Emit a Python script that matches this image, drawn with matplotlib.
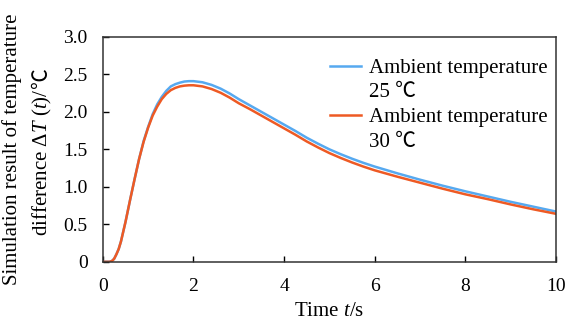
import matplotlib
matplotlib.use('Agg')
import matplotlib.pyplot as plt
from matplotlib.lines import Line2D

plt.rcParams['font.family'] = ['Liberation Serif', 'Noto Sans CJK SC']
plt.rcParams['mathtext.fontset'] = 'custom'
plt.rcParams['mathtext.rm'] = 'Liberation Serif'
plt.rcParams['mathtext.it'] = 'Liberation Serif:italic'

# values
t = [0, 0.1, 0.15, 0.2, 0.25, 0.3, 0.35, 0.4, 0.5, 0.6, 0.7, 0.8, 0.9, 1.0,
     1.1, 1.2, 1.3, 1.4, 1.5, 1.6, 1.7, 1.8, 1.9, 2.0, 2.2, 2.4, 2.6, 2.8,
     3.0, 3.25, 3.5, 3.75, 4.0, 4.25, 4.5, 4.75, 5.0, 5.25, 5.5, 5.75, 6.0,
     6.5, 7.0, 7.5, 8.0, 8.5, 9.0, 9.5, 10.0]
dT_25 = [0, 0, 0, 0.01, 0.04, 0.10, 0.17, 0.27, 0.53, 0.82, 1.10, 1.37,
         1.61, 1.80, 1.97, 2.10, 2.20, 2.28, 2.34, 2.37, 2.39, 2.405, 2.41,
         2.41, 2.395, 2.36, 2.31, 2.245, 2.17, 2.085, 2.0, 1.915, 1.83,
         1.745, 1.655, 1.575, 1.50, 1.435, 1.375, 1.32, 1.27, 1.18, 1.095,
         1.015, 0.94, 0.87, 0.80, 0.735, 0.67]
dT_30 = [0, 0, 0, 0.01, 0.04, 0.10, 0.17, 0.27, 0.53, 0.82, 1.10, 1.37,
         1.60, 1.79, 1.95, 2.07, 2.17, 2.24, 2.29, 2.32, 2.34, 2.35, 2.355,
         2.355, 2.34, 2.305, 2.255, 2.19, 2.115, 2.035, 1.95, 1.865, 1.78,
         1.695, 1.605, 1.525, 1.45, 1.385, 1.325, 1.27, 1.22, 1.135, 1.055,
         0.975, 0.90, 0.835, 0.765, 0.70, 0.64]

xticks = [0, 2, 4, 6, 8, 10]
yticks = [0, 0.5, 1.0, 1.5, 2.0, 2.5, 3.0]
ytick_labels = ['0', '0.5', '1.0', '1.5', '2.0', '2.5', '3.0']

blue = '#56A9F0'
orange = '#EE5A24'

fig = plt.figure(figsize=(5.68, 3.24), dpi=100)
ax = fig.add_axes([0.181, 0.192, 0.798, 0.694])

ax.plot(t, dT_25, color=blue, lw=1.8)
ax.plot(t, dT_30, color=orange, lw=1.8)

ax.set_xlim(0, 10)
ax.set_ylim(0, 3.0)
ax.set_xticks(xticks)
ax.set_yticks(yticks)
ax.set_yticklabels(ytick_labels)
ax.tick_params(direction='in', length=4, width=1, labelsize=14)
ax.tick_params(axis='x', pad=12)
ax.tick_params(axis='y', pad=11)
for s in ax.spines.values():
    s.set_linewidth(1.1)
    s.set_color('#333333')

ax.set_xlabel('Time $t$/s', fontsize=15, labelpad=5)

# two-line y label, built by hand so that the ℃ sign can come from a CJK font
fig.text(12 / 568, 0.5386, 'Simulation result of temperature', rotation=90,
         ha='center', va='center', fontsize=15)
yl2 = fig.text(42 / 568, (324 - 236) / 324, 'difference Δ$T$ ($t$)/',
               rotation=90, ha='center', va='bottom', fontsize=15)
ax.annotate('℃', xy=(0.5, 1.0), xycoords=yl2, rotation=90, ha='center',
            va='bottom', fontsize=15, annotation_clip=False)

handles = [Line2D([], [], color=blue, lw=1.8), Line2D([], [], color='none'),
           Line2D([], [], color=orange, lw=1.8), Line2D([], [], color='none')]
labels = ['Ambient temperature', '25 ℃', 'Ambient temperature', '30 ℃']
ax.legend(handles, labels, loc='upper right', bbox_to_anchor=(0.982, 0.905),
          frameon=False, fontsize=15, labelspacing=0.24, handlelength=1.5,
          handletextpad=0.38, borderpad=0, borderaxespad=0)

fig.savefig('out.png', dpi=100)
